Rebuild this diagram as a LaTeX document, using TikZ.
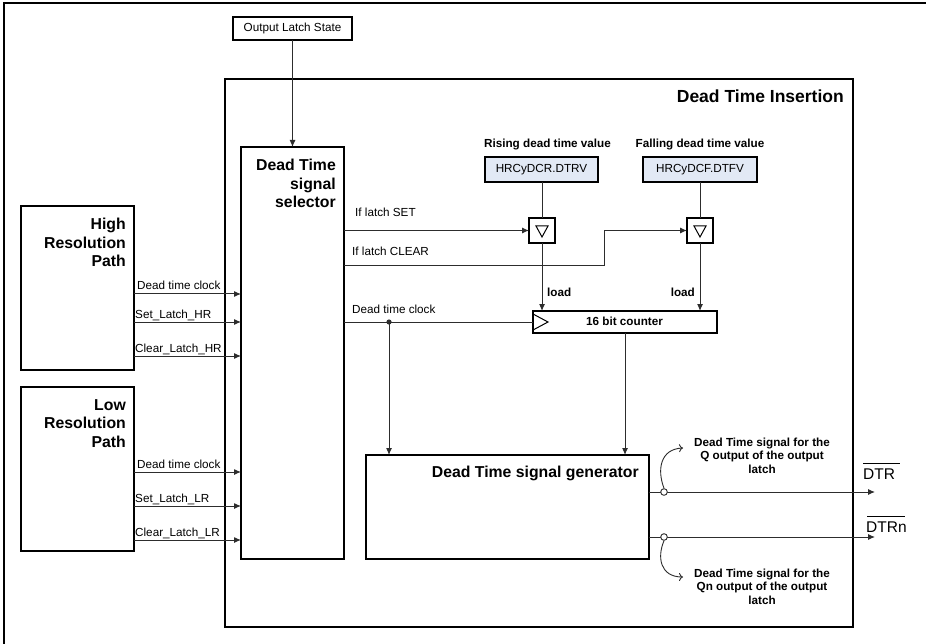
\documentclass[tikz,border=0pt]{standalone}
\usepackage{fontspec}
\setmainfont{Liberation Sans}
\usetikzlibrary{arrows.meta}
\definecolor{wirec}{RGB}{45,45,45}
\definecolor{regfill}{RGB}{226,233,245}
\begin{document}
\begin{tikzpicture}[x=1pt,y=-1pt,
  box/.style={draw=black, line width=1.3pt, inner sep=0pt, outer sep=0pt, fill=white},
  regbox/.style={box, line width=1.1pt, fill=regfill},
  wire/.style={draw=wirec, line width=1pt},
  arr/.style={wire, -{Latex[length=7pt,width=6pt]}},
  curv/.style={wire, line width=0.9pt, -{To[length=4pt,width=8pt]}},
  sm/.style={font=\fontsize{11.7}{13.5}\selectfont, inner sep=0pt},
  smb/.style={font=\fontsize{11.7}{13.5}\selectfont\bfseries, inner sep=0pt},
  big/.style={font=\fontsize{15.8}{18.5}\selectfont\bfseries, inner sep=0pt, align=right},
]
\useasboundingbox (0,0) rectangle (926,644);
\fill[white] (0,0) rectangle (926,644);
\draw[line width=1.2pt] (4,650) -- (4,3) -- (930,3);

% top input
\node[box, line width=1.1pt, minimum width=119pt, minimum height=23pt, sm] (ols) at (292.5,28.5) {Output Latch State};

% Dead Time Insertion block
\node[box, minimum width=628pt, minimum height=548pt] (dti) at (539,353) {};
\node[anchor=base east, font=\fontsize{17.5}{20}\selectfont\bfseries, inner sep=0pt] (dtit) at (844,103) {Dead Time Insertion};

% selector
\node[box, minimum width=103pt, minimum height=412pt] (sel) at (292.5,353) {};
\node[big, anchor=north east] (selt) at (336,159) {Dead Time\\signal\\selector};
\draw[arr] (ols.south -| sel.north) -- (sel.north);

% high resolution path
\node[box, minimum width=113pt, minimum height=164pt] (hr) at (77.5,288) {};
\node[big, anchor=north east] (hrt) at (126,218) {High\\Resolution\\Path};
\draw[arr] (hr.east |- 0,294) -- (sel.west |- 0,294);
\draw[arr] (hr.east |- 0,322) -- (sel.west |- 0,322);
\draw[arr] (hr.east |- 0,356) -- (sel.west |- 0,356);
\node[sm, anchor=base west] (hr1) at (137,290) {Dead time clock};
\node[sm, anchor=base west] (hr2) at (135,318) {Set\_Latch\_HR};
\node[sm, anchor=base west] (hr3) at (135,352) {Clear\_Latch\_HR};

% low resolution path
\node[box, minimum width=113pt, minimum height=164pt] (lr) at (77.5,469) {};
\node[big, anchor=north east] (lrt) at (126,399) {Low\\Resolution\\Path};
\draw[arr] (lr.east |- 0,472) -- (sel.west |- 0,472);
\draw[arr] (lr.east |- 0,506) -- (sel.west |- 0,506);
\draw[arr] (lr.east |- 0,540) -- (sel.west |- 0,540);
\node[sm, anchor=base west] (lr1) at (137,468) {Dead time clock};
\node[sm, anchor=base west] (lr2) at (135,502) {Set\_Latch\_LR};
\node[sm, anchor=base west] (lr3) at (135,536) {Clear\_Latch\_LR};

% dead time registers
\node[regbox, minimum width=113pt, minimum height=25pt, sm] (dcr) at (541.5,169.5) {HRCyDCR.DTRV};
\node[regbox, minimum width=114pt, minimum height=25pt, sm] (dcf) at (700,169.5) {HRCyDCF.DTFV};
\node[smb, anchor=base] (dcrt) at (547.5,148) {Rising dead time value};
\node[smb, anchor=base] (dcft) at (700,148) {Falling dead time value};

% latches (triangle boxes)
\node[box, line width=1.1pt, minimum width=26pt, minimum height=25pt] (t1) at (542,230.5) {};
\node[box, line width=1.1pt, minimum width=26pt, minimum height=25pt] (t2) at (700,230.5) {};
\draw[line width=1pt] (536,226) -- (548,226) -- (542,237) -- cycle;
\draw[line width=1pt] (694,226) -- (706,226) -- (700,237) -- cycle;
\draw[wire] (dcr.south -| t1.north) -- (t1.north);
\draw[wire] (dcf.south -| t2.north) -- (t2.north);

% if latch set / clear
\coordinate (stp) at (604,266);
\draw[arr] (sel.east |- t1.west) -- (t1.west);
\draw[arr] (sel.east |- stp) -- (stp) |- (t2.west);
\node[sm, anchor=base west] (ifs) at (355,217) {If latch SET};
\node[sm, anchor=base west] (ifc) at (352,256) {If latch CLEAR};

% counter
\node[box, line width=1.1pt, minimum width=184pt, minimum height=22pt] (cnt) at (625,322) {};
\node[smb, anchor=base] (cntt) at (624.5,325.5) {16 bit counter};
\draw[line width=1pt] (cnt.west |- 0,314) -- (548,322) -- (cnt.west |- 0,330);
\draw[arr] (t1.south) -- (t1.south |- cnt.north);
\draw[arr] (t2.south) -- (t2.south |- cnt.north);
\node[smb, anchor=base west] (ld1) at (547,296) {load};
\node[smb, anchor=base east] (ld2) at (695,296) {load};

% dead time clock to counter
\coordinate (dot) at (389,322);
\draw[wire] (sel.east |- cnt.west) -- (cnt.west);
\fill[wirec] (dot) circle (2.6pt);
\node[sm, anchor=base west] (dtc) at (352,313) {Dead time clock};

% generator
\node[box, minimum width=283pt, minimum height=104pt] (gen) at (507.5,507) {};
\node[anchor=base east, font=\fontsize{15.8}{18}\selectfont\bfseries, inner sep=0pt] (gent) at (639,477) {Dead Time signal generator};
\draw[arr] (dot) -- (dot |- gen.north);
\draw[arr] (cnt.south) -- (cnt.south |- gen.north);

% outputs
\coordinate (o1) at (875,492);
\coordinate (o2) at (875,537);
\draw[arr] (gen.east |- o1) -- (o1);
\draw[arr] (gen.east |- o2) -- (o2);
\node[circle, draw=wirec, fill=white, line width=0.9pt, minimum size=6.6pt, inner sep=0pt] (c1) at (664,492) {};
\node[circle, draw=wirec, fill=white, line width=0.9pt, minimum size=6.6pt, inner sep=0pt] (c2) at (664,537) {};
\coordinate (q1) at (683,448);
\coordinate (q2) at (683,577);
\draw[curv] (c1.north) .. controls (657,470) and (660,449) .. (q1);
\draw[curv] (c2.south) .. controls (657,557) and (660,577) .. (q2);

\node[smb, align=center, anchor=north] (txq) at (762,437.5) {Dead Time signal for the\\Q output of the output\\latch};
\node[smb, align=center, anchor=north] (txqn) at (762,568.5) {Dead Time signal for the\\Qn output of the output\\latch};

\node[font=\fontsize{15.5}{18}\selectfont, inner sep=0pt, anchor=base west] (dtr) at (863,479) {DTR};
\node[font=\fontsize{15.5}{18}\selectfont, inner sep=0pt, anchor=base west] (dtrn) at (866,532) {DTRn};
\draw[line width=1pt] ([yshift=5pt]dtr.north west) -- ([xshift=5pt,yshift=5pt]dtr.north east);
\draw[line width=1pt] ([xshift=1pt,yshift=5pt]dtrn.north west) -- ([xshift=-2pt,yshift=5pt]dtrn.north east);
\end{tikzpicture}
\end{document}
